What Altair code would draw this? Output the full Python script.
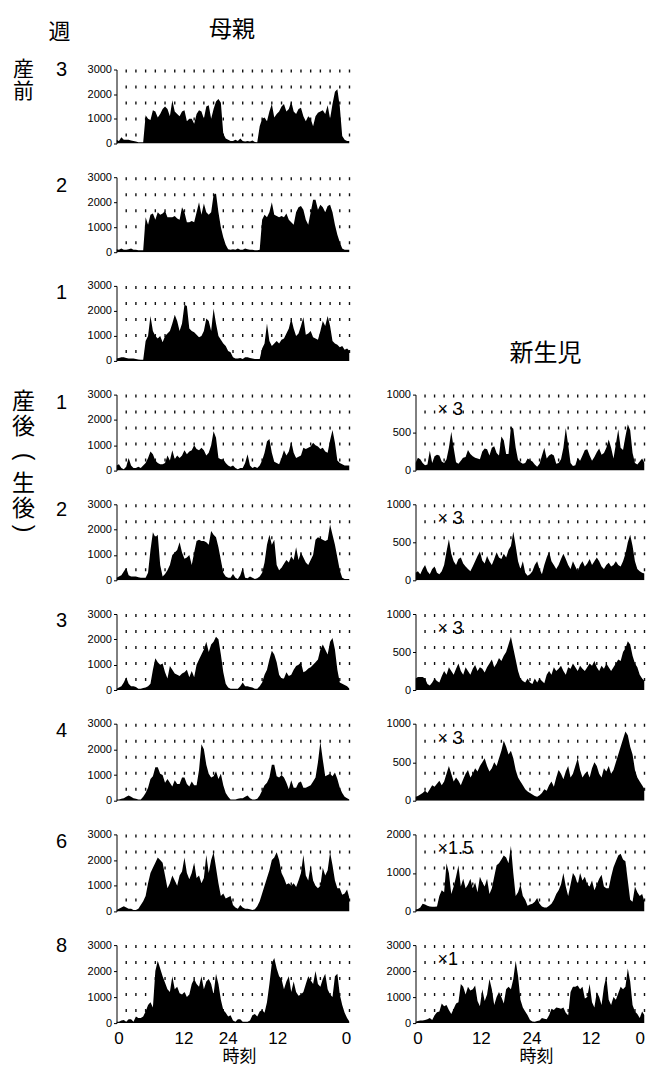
import altair as alt
import pandas as pd

# time stamps of the half-hour bins (hours, double plotted 0..48)
HOURS = [i / 2 for i in range(97)]
GRID_HOURS = list(range(2, 49, 2))

# x tick label positions as drawn in the reference
LEFT_XLABEL_POS = [0.4, 13.8, 22.9, 33.1, 47.3]
RIGHT_XLABEL_POS = [0.4, 13.7, 24.3, 36.7, 47.0]

# ---------------- mother (母親) activity counts ----------------
mother_pre3 = [
    150, 100, 250, 150, 150, 150, 120, 100, 80, 50, 50, 50,
    1150, 1000, 950, 1350, 1300, 1050, 1200, 1400, 1500, 1400, 1100, 1750,
    1300, 1200, 1100, 1300, 1350, 900, 1000, 1000, 800, 1200, 1350, 1300,
    1000, 1500, 1550, 1000, 1400, 1700, 1800, 1650, 400, 200, 150, 100,
    100, 150, 100, 200, 100, 80, 100, 80, 120, 60, 50, 700,
    1000, 1050, 900, 1300, 1600, 1050, 1200, 1300, 1500, 1600, 1300, 1400,
    1700, 1300, 1200, 1400, 1450, 1100, 900, 1100, 1000, 700, 1100, 1250,
    1300, 1350, 1200, 1550, 1000, 1600, 2100, 2200, 1500, 300, 150, 100,
    100]
mother_pre2 = [
    120, 100, 150, 100, 100, 120, 150, 100, 100, 80, 80, 80,
    1400, 1100, 1500, 1550, 1300, 1600, 1500, 1550, 1650, 1400, 1400, 1400,
    1450, 1350, 1300, 1800, 1600, 1200, 1200, 1250, 1200, 1600, 2000, 1500,
    1950, 1600, 1500, 1600, 2300, 2350, 1600, 1000, 600, 300, 120, 100,
    120, 100, 150, 100, 100, 150, 120, 100, 100, 80, 80, 100,
    1300, 1500, 1400, 1600, 2000, 1500, 1450, 1400, 1450, 1400, 1550, 1300,
    1200, 1100, 1600, 1800, 1850, 1700, 1300, 1100, 1600, 2100, 2100, 1700,
    1900, 1800, 1600, 1850, 1900, 1600, 1100, 700, 400, 150, 100, 100,
    100]
mother_pre1 = [
    100, 120, 150, 150, 120, 100, 100, 100, 80, 60, 50, 50,
    800, 1000, 1800, 1200, 1000, 900, 1000, 750, 1000, 1100, 1200, 1500,
    1850, 1600, 1200, 1500, 2250, 2200, 1300, 1200, 1150, 1050, 950, 1000,
    1200, 1700, 1600, 1200, 2100, 1500, 1000, 850, 700, 600, 400, 350,
    150, 100, 100, 120, 80, 150, 150, 120, 100, 80, 80, 80,
    500, 700, 1500, 800, 600, 700, 800, 700, 850, 900, 1100, 1300,
    1700, 1300, 1000, 1100, 1400, 1750, 1050, 1100, 1200, 950, 900, 850,
    1200, 1600, 1400, 1800, 1400, 800, 700, 650, 550, 600, 450, 500,
    400]
mother_post1 = [
    200, 250, 100, 50, 150, 500, 200, 100, 100, 150, 100, 200,
    300, 500, 750, 650, 400, 300, 250, 250, 300, 600, 400, 800,
    450, 600, 500, 600, 800, 650, 750, 800, 1000, 850, 800, 900,
    800, 600, 700, 1000, 1550, 1300, 500, 450, 450, 300, 200, 150,
    200, 100, 50, 100, 100, 300, 650, 200, 100, 150, 100, 200,
    400, 700, 1150, 1250, 700, 350, 300, 250, 500, 800, 600, 750,
    1150, 700, 500, 550, 600, 900, 850, 900, 950, 1100, 1000, 950,
    850, 900, 750, 700, 1200, 1600, 1100, 400, 300, 250, 200, 200,
    200]
mother_post2 = [
    100, 150, 200, 350, 500, 200, 150, 150, 150, 120, 100, 100,
    100, 300, 1200, 1900, 1700, 1800, 600, 150, 250, 400, 600, 1000,
    1100, 1200, 1500, 1100, 850, 900, 1000, 600, 1100, 1550, 1600, 1550,
    1550, 1500, 1400, 1950, 1800, 1700, 1300, 800, 300, 150, 100, 100,
    250, 100, 50, 200, 500, 100, 80, 150, 100, 50, 80, 150,
    300, 700, 1400, 1800, 1400, 1600, 600, 400, 500, 650, 800, 700,
    950, 800, 1300, 800, 1100, 900, 700, 600, 800, 1000, 1600, 1700,
    1650, 1600, 1550, 1600, 2200, 1800, 1400, 900, 400, 100, 50, 50,
    50]
mother_post3 = [
    50, 100, 150, 300, 500, 250, 150, 150, 120, 50, 50, 80,
    100, 150, 250, 800, 1250, 1100, 1000, 1050, 700, 450, 950, 800,
    650, 600, 550, 650, 700, 800, 500, 750, 500, 1000, 1200, 1400,
    1600, 1900, 1500, 1800, 1900, 2100, 2000, 1400, 700, 250, 100, 50,
    50, 50, 50, 150, 300, 150, 150, 120, 100, 50, 50, 150,
    300, 600, 800, 1200, 1550, 1400, 1100, 600, 450, 450, 700, 550,
    600, 800, 950, 1000, 1100, 700, 750, 850, 900, 1000, 1100, 1200,
    1600, 1800, 1600, 1400, 1900, 2050, 1600, 800, 300, 250, 200, 150,
    50]
mother_post4 = [
    50, 50, 80, 100, 150, 200, 150, 100, 80, 50, 50, 150,
    300, 500, 850, 950, 1300, 1300, 1050, 1000, 700, 850, 700, 550,
    800, 650, 650, 900, 900, 650, 550, 750, 600, 600, 1200, 2200,
    2000, 1400, 1050, 900, 950, 1150, 850, 1050, 600, 300, 150, 50,
    50, 50, 80, 100, 100, 150, 200, 100, 50, 50, 80, 200,
    400, 600, 700, 900, 1400, 1400, 950, 900, 1000, 900, 700, 450,
    800, 500, 500, 700, 750, 500, 500, 550, 600, 750, 900, 1500,
    2300, 1600, 950, 1000, 1050, 950, 1100, 850, 500, 300, 150, 100,
    50]
mother_post6 = [
    50, 100, 150, 200, 150, 100, 100, 50, 50, 100, 250, 400,
    600, 1100, 1500, 1700, 1900, 2100, 2000, 1900, 1400, 900, 1100, 1400,
    1200, 1000, 1400, 1550, 2100, 1500, 1250, 1500, 1900, 1300, 1400, 1100,
    1300, 2200, 1500, 2000, 2300, 1700, 1100, 600, 700, 500, 550, 600,
    250, 150, 100, 250, 150, 100, 100, 80, 50, 80, 200, 400,
    700, 1000, 1300, 1600, 2000, 2100, 2300, 2000, 1500, 1300, 1050, 1100,
    1000, 1100, 950, 1200, 1500, 2200, 1400, 1200, 1800, 1200, 1000, 900,
    1000, 1700, 1400, 1600, 2300, 1800, 1200, 900, 900, 650, 700, 850,
    500]
mother_post8 = [
    50, 50, 100, 120, 50, 150, 150, 50, 250, 200, 200, 250,
    450, 700, 800, 600, 2000, 2400, 2100, 1800, 1550, 1300, 1200, 1800,
    1300, 1400, 1150, 1100, 1200, 1000, 1100, 1500, 1700, 1500, 1400, 1800,
    1300, 1600, 1700, 1500, 1100, 1900, 1500, 900, 500, 400, 250, 300,
    100, 50, 150, 150, 50, 50, 50, 100, 300, 350, 250, 450,
    500, 400, 800, 1500, 2300, 2500, 2100, 1800, 1700, 1300, 1600, 1800,
    1200, 1600, 1200, 1050, 1100, 1200, 1500, 1800, 1650, 1500, 2000, 1500,
    1400, 1700, 1900, 1300, 1100, 1000, 1800, 1900, 1100, 700, 400, 200,
    50]

# ---------------- newborn (新生児) activity counts ----------------
baby_post1 = [
    100, 170, 150, 100, 70, 80, 260, 100, 190, 210, 200, 120,
    100, 150, 300, 510, 300, 110, 90, 130, 170, 180, 270, 220,
    190, 170, 160, 150, 250, 290, 280, 200, 300, 320, 230, 200,
    450, 400, 220, 220, 580, 550, 300, 140, 110, 90, 100, 160,
    140, 120, 80, 50, 90, 200, 300, 160, 200, 220, 200, 90,
    100, 150, 300, 560, 340, 100, 60, 70, 170, 130, 200, 270,
    280, 200, 130, 180, 240, 290, 210, 230, 300, 410, 300, 160,
    350, 540, 300, 270, 450, 610, 530, 230, 100, 80, 120, 160,
    100]
baby_post2 = [
    100, 120, 80, 150, 200, 120, 80, 150, 180, 100, 80, 120,
    200, 380, 540, 350, 250, 200, 280, 300, 220, 180, 150, 120,
    180, 250, 320, 380, 260, 220, 320, 250, 200, 280, 370, 300,
    280, 350, 300, 400, 450, 640, 450, 250, 150, 250, 100, 60,
    80, 120, 200, 250, 150, 80, 200, 300, 380, 250, 200, 150,
    200, 280, 350, 280, 200, 150, 250, 180, 120, 200, 250, 180,
    220, 280, 200, 250, 300, 250, 180, 150, 200, 230, 180, 200,
    250, 200, 180, 250, 350, 500, 600, 450, 250, 150, 120, 100,
    90]
baby_post3 = [
    150, 170, 170, 170, 150, 80, 60, 100, 150, 120, 100, 180,
    250, 200, 300, 250, 200, 280, 350, 250, 200, 300, 250, 200,
    280, 330, 250, 300, 280, 230, 300, 350, 400, 300, 350, 420,
    380, 450, 500, 600, 700, 550, 400, 250, 150, 120, 100, 150,
    100, 80, 150, 100, 150, 120, 90, 200, 250, 200, 300, 250,
    280, 320, 250, 200, 300, 280, 350, 300, 250, 320, 280, 250,
    300, 350, 320, 380, 300, 250, 320, 280, 350, 300, 250, 300,
    350, 400, 380, 500, 550, 640, 600, 450, 350, 300, 200, 150,
    120]
baby_post4 = [
    50, 60, 80, 100, 130, 100, 150, 200, 180, 220, 260, 200,
    250, 350, 450, 350, 250, 300, 260, 200, 280, 350, 400, 300,
    350, 420, 380, 450, 500, 550, 450, 380, 420, 500, 450, 550,
    650, 780, 700, 600, 650, 550, 400, 300, 250, 200, 150, 120,
    100, 80, 60, 50, 70, 100, 150, 130, 200, 250, 180, 300,
    400, 350, 280, 380, 450, 300, 350, 450, 550, 400, 300, 350,
    380, 300, 420, 500, 450, 350, 300, 420, 380, 450, 350, 400,
    500, 600, 700, 800, 900, 850, 700, 600, 400, 300, 250, 200,
    150]
baby_post6 = [
    50, 60, 100, 200, 180, 150, 130, 120, 120, 130, 400, 550,
    500, 1250, 1000, 450, 650, 900, 1200, 650, 850, 600, 700, 850,
    600, 750, 500, 900, 750, 650, 850, 450, 600, 900, 1200, 1250,
    1350, 1450, 1400, 1250, 1700, 1000, 400, 500, 700, 400, 300, 150,
    180, 200, 250, 350, 200, 130, 100, 100, 150, 200, 300, 450,
    550, 700, 1000, 650, 400, 700, 1000, 900, 700, 1000, 800, 900,
    700, 650, 800, 550, 700, 850, 950, 650, 600, 600, 900, 1150,
    1300, 1450, 1500, 1350, 1300, 800, 300, 250, 650, 500, 400, 450,
    250]
baby_post8 = [
    50, 80, 100, 100, 120, 150, 200, 120, 300, 420, 450, 750,
    650, 700, 500, 350, 550, 750, 800, 1500, 1400, 1100, 1400, 1250,
    1300, 1450, 850, 650, 1300, 850, 1100, 1700, 1300, 700, 1000, 1200,
    1000, 750, 1300, 1400, 1300, 1700, 2400, 1800, 900, 600, 450, 300,
    120, 60, 50, 80, 100, 200, 170, 150, 300, 550, 500, 600,
    580, 550, 600, 400, 300, 1200, 1400, 1400, 1450, 1300, 1400, 950,
    1000, 1500, 800, 600, 1200, 1000, 700, 1400, 1800, 900, 700, 1000,
    900, 1150, 1400, 1300, 1400, 2100, 1600, 700, 450, 350, 200, 450,
    300]

WEEKS = ["3", "2", "1", "1", "2", "3", "4", "6", "8"]
MOTHER = [mother_pre3, mother_pre2, mother_pre1, mother_post1, mother_post2,
          mother_post3, mother_post4, mother_post6, mother_post8]
BABY = [None, None, None, baby_post1, baby_post2, baby_post3, baby_post4,
        baby_post6, baby_post8]
BABY_SCALE = [None, None, None, "× 3", "× 3", "× 3", "× 3", "×1.5", "×1"]
BABY_MAX = [None, None, None, 1000, 1000, 1000, 1000, 2000, 3000]
BABY_TICKS = [None, None, None, [0, 500, 1000], [0, 500, 1000], [0, 500, 1000],
              [0, 500, 1000], [0, 1000, 2000], [0, 1000, 2000, 3000]]
MOTHER_TICKS = [0, 1000, 2000, 3000]

# ---------------- layout / style ----------------
W_LEFT = 233
W_RIGHT = 229
HEIGHTS = [74, 75, 75, 76, 76, 76, 77, 77, 78]
WEEK_DY = [0, 9, 7, 8, 6, 7, 7, 8, 1]
ROW_GAP = 33.7
COL_GAP = 66
FONT = "Liberation Sans"
CJK = "Noto Sans CJK JP"
ONE = pd.DataFrame({"a": [0]})
grid_df = pd.DataFrame({"h": GRID_HOURS})

LABEL_EXPR = ("datum.value < 5 ? '0' : datum.value < 18 ? '12' : "
              "datum.value < 29 ? '24' : datum.value < 42 ? '12' : '0'")


def txt(text, dx, dy, size, font=FONT, align="center", baseline="middle", angle=None):
    kw = dict(text=text, fontSize=size, font=font, align=align,
              baseline=baseline, color="black")
    if angle is not None:
        kw["angle"] = angle
    return alt.Chart(ONE).mark_text(**kw).encode(x=alt.value(dx), y=alt.value(dy))


def panel(vals, ymax, yticks, W, H, bottom, label_pos, title_x, extra):
    if bottom:
        xaxis = alt.Axis(values=label_pos, labelExpr=LABEL_EXPR, domain=False,
                         ticks=False, tickSize=0, grid=False, labelFont=FONT,
                         labelFontSize=17, labelColor="black", labelPadding=7,
                         labelFlush=False, labelOverlap=False,
                         title="時刻", titleFont=CJK, titleFontSize=17,
                         titleFontWeight="normal", titleColor="black",
                         titleX=title_x, titleY=33.5, titleBaseline="middle")
    else:
        xaxis = None
    xenc = alt.X("h:Q", scale=alt.Scale(domain=[0, 48], nice=False, zero=False),
                 axis=xaxis)
    yaxis = alt.Axis(values=yticks, format="d", grid=False, title=None,
                     labelFont=FONT, labelFontSize=11, labelColor="black",
                     labelPadding=2, domainColor="black", domainWidth=1,
                     tickColor="black", tickSize=3, tickWidth=1)
    rules = alt.Chart(grid_df).mark_rule(
        color="#111", strokeWidth=1.4, strokeDash=[3, 13]
    ).encode(x=xenc, y=alt.value(0), y2=alt.value(H))
    df = pd.DataFrame({"h": HOURS[:len(vals)], "v": vals})
    area = alt.Chart(df).mark_area(
        color="black", interpolate="linear", clip=True
    ).encode(x=xenc,
             y=alt.Y("v:Q", scale=alt.Scale(domain=[0, ymax], nice=False), axis=yaxis))
    return alt.layer(rules, area, *extra).properties(width=W, height=H)


cells = []
n = len(WEEKS)
for i in range(n):
    H = HEIGHTS[i]
    bottom = i == n - 1
    extra = [txt(WEEKS[i], -55, WEEK_DY[i], 20)]
    if i == 0:
        extra += [
            txt("週", -57, -38, 22, font=CJK),
            txt("母親", 115.5, -40, 23, font=CJK),
            txt("産", -93, 0, 21, font=CJK),
            txt("前", -93, 22.5, 21, font=CJK),
        ]
    if i == 3:
        extra += [
            txt("産", -93, 7, 23, font=CJK),
            txt("後", -93, 32.5, 23, font=CJK),
            txt("(", -93, 62, 23, angle=90),
            txt("生", -93, 89, 23, font=CJK),
            txt("後", -93, 114, 23, font=CJK),
            txt(")", -93, 134, 23, angle=90),
        ]
    cells.append(panel(MOTHER[i], 3000, MOTHER_TICKS, W_LEFT, H, bottom,
                       LEFT_XLABEL_POS, 122.5, extra))
    if BABY[i] is None:
        blank = alt.Chart(ONE).mark_point(opacity=0).encode(
            x=alt.value(0), y=alt.value(0)).properties(width=W_RIGHT, height=H)
        cells.append(blank)
    else:
        bx = [txt(BABY_SCALE[i], 22, 15, 18, align="left")]
        if i == 3:
            bx.append(txt("新生児", 130, -41, 24, font=CJK))
        cells.append(panel(BABY[i], BABY_MAX[i], BABY_TICKS[i], W_RIGHT, H, bottom,
                           RIGHT_XLABEL_POS, 120.5, bx))

chart = alt.concat(
    *cells, columns=2,
    spacing=alt.RowColnumber(row=ROW_GAP, column=COL_GAP),
    bounds="flush",
).properties(
    padding={"left": 3.5, "top": 10.5, "right": 0, "bottom": 2}
).configure_view(stroke=None)

chart.save("out.html", embed_options={"renderer": "svg", "actions": False})
